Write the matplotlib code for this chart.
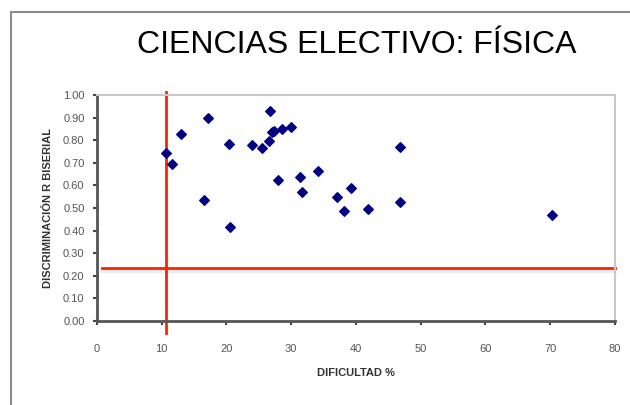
import matplotlib.pyplot as plt
import numpy as np

# datos
dificultad = [10.7, 11.6, 13.0, 17.1, 16.6, 20.4, 20.6, 24.0, 25.5, 26.6,
              26.7, 27.0, 27.4, 28.5, 30.0, 27.9, 31.4, 31.7, 34.1, 37.0,
              39.2, 38.2, 41.9, 46.8, 46.8, 70.3]
discriminacion = [0.744, 0.696, 0.829, 0.899, 0.535, 0.782, 0.416, 0.777, 0.768, 0.799,
                  0.932, 0.837, 0.842, 0.851, 0.861, 0.625, 0.637, 0.570, 0.662, 0.547,
                  0.587, 0.486, 0.495, 0.770, 0.525, 0.471]
corte_x = 10.6
corte_y = 0.233
xticks = np.arange(0, 81, 10)
yticks = np.arange(0, 1.01, 0.1)

plt.rcParams["font.family"] = ["Liberation Sans", "DejaVu Sans"]

fig = plt.figure(figsize=(6.3, 4.05), dpi=100)
# marco exterior (solo arriba e izquierda visibles)
fig.add_artist(plt.Line2D([11 / 630, 11 / 630], [0, 1 - 12 / 405],
                          color="#8c8c8c", lw=1.5))
fig.add_artist(plt.Line2D([11 / 630, 1], [1 - 12 / 405, 1 - 12 / 405],
                          color="#8c8c8c", lw=1.5))

fig.text(0.567, 0.888, "CIENCIAS ELECTIVO: FÍSICA", ha="center", va="center",
         fontsize=23, color="#000000")

ax = fig.add_axes([0.154, 0.208, 0.822, 0.557])
ax.scatter(dificultad, discriminacion, marker="D", s=24, color="#000080",
           zorder=3)

# sombras y lineas de corte
ax.plot([0.8, 80], [corte_y - 0.013, corte_y - 0.013], color="#ececec",
        lw=3, clip_on=False, zorder=1)
ax.plot([0.8, 80], [corte_y, corte_y], color="#ff2200", lw=2,
        clip_on=False, zorder=2)
ax.plot([corte_x, corte_x], [-0.055, 1.015], color="#ff2200", lw=2,
        clip_on=False, zorder=2)

ax.set_xlim(0, 80)
ax.set_ylim(0, 1)
ax.set_xticks(xticks)
ax.set_yticks(yticks)
ax.set_yticklabels(["{:.2f}".format(y) for y in yticks])
ax.tick_params(axis="both", labelsize=8, labelcolor="#555555",
               color="#444444", length=3, width=1.5, direction="out")
ax.tick_params(axis="x", pad=14)
ax.tick_params(axis="y", pad=6)

for side in ["left", "bottom"]:
    ax.spines[side].set_color("#555555")
    ax.spines[side].set_linewidth(2)
for side in ["top", "right"]:
    ax.spines[side].set_color("#c8c8c8")
    ax.spines[side].set_linewidth(1.5)

ax.set_xlabel("DIFICULTAD %", fontsize=8, fontweight="bold",
              color="#333333", labelpad=10)
ax.set_ylabel("DISCRIMINACIÓN R BISERIAL", fontsize=8, fontweight="bold",
              color="#333333", labelpad=7)

plt.savefig("out.png", dpi=100)
